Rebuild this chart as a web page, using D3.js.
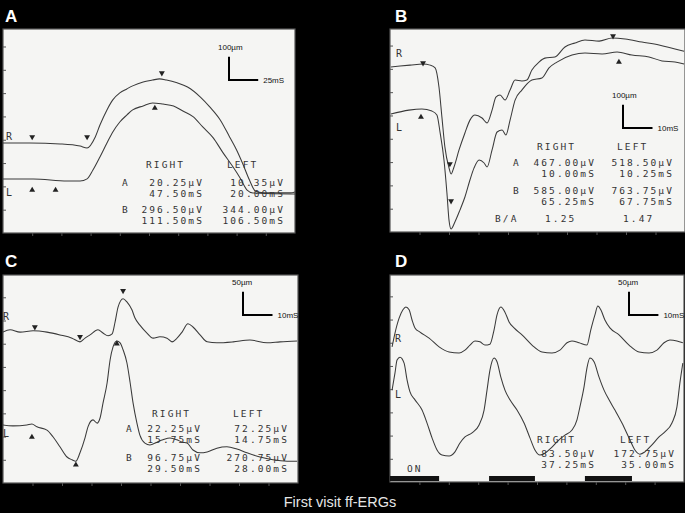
<!DOCTYPE html>
<html><head><meta charset="utf-8">
<script src="https://cdn.jsdelivr.net/npm/d3@7"></script>
<style>
html,body{margin:0;padding:0;background:#000;}
svg{display:block;}
</style></head>
<body>
<svg id="chart" width="685" height="513"></svg>
<script>
// ---------------- DATA (time in ms, amplitude in µV from the bottom of each grid) ----------------
const panelLetters = ["A", "B", "C", "D"];
const caption = "First visit ff-ERGs";

// Panel A (scotopic, 25 ms / div, 100 µV / div)
const traceA_R = [[0,386],[23,386],[49,382],[66,373],[72,365],[79,412],[83,463],[89,528],[94,571],[100,601],[106,618],[111,631],[120,648],[128,656],[134,661],[140,656],[149,644],[158,626],[169,583],[177,541],[186,485],[194,412],[200,356],[205,300],[211,227],[216,180],[223,172],[246,172],[250,176]];
const traceA_L = [[0,232],[26,232],[55,223],[66,223],[72,232],[77,270],[83,326],[89,386],[94,433],[100,476],[106,506],[111,528],[120,545],[128,558],[137,553],[146,545],[154,523],[163,498],[171,455],[180,408],[188,347],[197,283],[203,236],[209,184],[214,172],[246,167],[250,167]];
const downA = [[25,412],[72,412],[136,686]];
const upA = [[25,184],[45,184],[130,536]];
const headerA = ["RIGHT","LEFT"];
const rowsA = [["A","20.25µV","47.50mS","10.35µV","20.00mS"],["B","296.50µV","111.50mS","344.00µV","106.50mS"]];
const scaleA = ["100µm","25mS"];

// Panel B (10 ms / div, 100 µV / div)
const traceB_R = [[0.3,708],[3.4,712],[6.8,716],[11.2,721],[13.6,716],[15.3,704],[16.6,622],[17.6,493],[18.6,365],[20.0,275],[20.7,249],[21.7,279],[23.4,352],[25.4,425],[27.1,480],[28.8,502],[31.2,489],[32.9,468],[34.6,523],[35.9,579],[37.3,588],[39.0,566],[40.7,609],[42.4,652],[44.7,648],[46.4,652],[48.1,695],[50.5,729],[52.5,746],[55.9,751],[59.3,794],[62.7,811],[66.1,824],[70.9,819],[75.3,832],[79.7,828],[85.4,815],[91.2,802],[96.6,785],[99.7,776]];
const traceB_L = [[0.3,506],[6.4,523],[10.8,528],[14.2,519],[15.9,502],[17.0,425],[18.3,309],[19.3,167],[20.0,51],[20.7,13],[22.0,43],[23.7,94],[25.4,150],[27.1,223],[28.5,275],[30.2,309],[31.9,296],[32.9,279],[34.6,352],[36.3,429],[38.0,438],[39.3,416],[40.7,480],[42.4,566],[44.7,609],[48.1,652],[51.5,661],[53.9,704],[56.6,729],[61.7,759],[66.1,768],[71.9,764],[77.0,772],[82.0,759],[87.8,751],[92.2,734],[96.6,729],[99.7,721]];
const downB = [[11.2,725],[20.3,292],[75.6,841],[20.7,133]];
const upB = [[10.5,493],[77.6,729]];
const headerB = ["RIGHT","LEFT"];
const rowsB = [["A","467.00µV","10.00mS","518.50µV","10.25mS"],["B","585.00µV","65.25mS","763.75µV","67.75mS"]];
const ratioB = ["B/A","1.25","1.47"];
const scaleB = ["100µm","10mS"];

// Panel C (10 ms / div, 50 µV / div)
const traceC_R = [[0,325],[2.4,330],[5.8,325],[10.2,328],[14.9,325],[19.3,319],[23.4,312],[26.1,304],[27.8,312],[29.5,319],[32.2,330],[33.9,323],[35.6,317],[37.0,321],[38.0,347],[39.0,379],[40.7,397],[42.0,390],[43.7,373],[44.7,356],[46.4,340],[48.8,323],[50.9,312],[53.2,315],[55.6,312],[57.3,304],[59.0,312],[60.7,325],[62.7,343],[64.4,336],[66.8,319],[69.2,304],[72.5,302],[78.0,304],[83.7,308],[89.5,302],[93.9,304],[99.7,306]];
const traceC_L = [[0,125],[3.4,123],[8.1,125],[9.8,127],[11.5,121],[14.9,114],[17.0,99],[19.3,78],[21.7,56],[23.4,50],[24.7,47],[26.1,65],[27.8,97],[28.8,121],[30.5,136],[31.9,129],[32.9,140],[33.9,172],[35.3,216],[36.3,265],[37.3,293],[38.6,306],[39.7,302],[40.7,287],[42.0,259],[43.1,216],[44.1,172],[45.4,129],[46.4,103],[48.1,86],[49.8,82],[52.2,88],[54.2,93],[56.6,97],[59.0,93],[60.7,88],[62.4,86],[64.4,71],[66.8,65],[69.2,67],[72.5,75],[75.9,78],[79.3,73],[82.7,65],[87.1,56],[91.5,50],[96.3,47],[99.7,47]];
const downC = [[10.8,336],[26.1,315],[40.7,414]];
const upC = [[9.8,99],[24.7,39],[38.6,300]];
const headerC = ["RIGHT","LEFT"];
const rowsC = [["A","22.25µV","15.75mS","72.25µV","14.75mS"],["B","96.75µV","29.50mS","270.75µV","28.00mS"]];
const scaleC = ["50µm","10mS"];

// Panel D (30 Hz flicker, 10 ms / div, 50 µV / div)
const traceD_R = [[0.7,291],[1.7,321],[3.1,353],[4.4,371],[5.4,377],[6.5,371],[7.5,349],[8.5,332],[10.2,323],[13.3,310],[16.7,291],[20.1,280],[23.5,278],[25.5,284],[27.2,295],[28.9,304],[30.6,302],[32.3,295],[34.0,297],[35.4,328],[36.4,360],[37.7,377],[39.1,366],[40.5,345],[42.2,332],[44.9,317],[48.3,295],[51.7,280],[55.1,278],[57.8,284],[60.2,300],[61.9,304],[64.3,300],[67.0,295],[68.3,328],[69.7,360],[70.7,379],[71.7,371],[73.1,349],[74.8,332],[77.9,317],[81.3,295],[84.7,280],[88.1,278],[90.8,284],[93.2,300],[95.2,306],[97.6,304],[99.6,300]];
const traceD_L = [[0.7,198],[1.7,235],[2.4,263],[3.4,269],[4.8,256],[5.8,220],[6.8,194],[8.5,177],[10.9,155],[12.6,127],[14.3,95],[16.0,69],[17.7,58],[20.1,56],[22.1,65],[23.8,84],[25.5,97],[27.9,106],[30.3,123],[32.0,155],[33.0,198],[34.0,241],[35.4,267],[36.4,259],[37.7,226],[39.1,198],[40.8,177],[43.2,155],[45.6,127],[47.6,95],[49.3,69],[51.0,58],[52.7,62],[55.1,75],[57.5,91],[59.5,101],[61.9,112],[63.6,134],[64.6,162],[66.0,205],[67.0,246],[68.0,267],[69.4,259],[71.1,226],[72.8,198],[74.5,177],[76.5,155],[78.9,127],[81.3,95],[83.3,69],[85.0,60],[86.7,65],[89.1,80],[91.5,97],[93.5,108],[95.9,127],[97.6,162],[98.6,213],[99.6,256]];
const stimD = [[0,16.7],[33.7,49.3],[66.3,82.3]];
const stimLabelD = "ON";
const headerD = ["RIGHT","LEFT"];
const rowsD = [["","83.50µV","37.25mS","172.75µV","35.00mS"]];
const scaleD = ["50µm","10mS"];

// ---------------- LAYOUT ----------------
const svg = d3.select("#chart");
svg.append("rect").attr("width",685).attr("height",513).attr("fill","#000");

const MONO = "'DejaVu Sans Mono', 'Liberation Mono', monospace";
const SANS = "'Liberation Sans', Arial, sans-serif";

const panels = [
  {id:"A", box:[3,295,29,233], xMax:250, yMax:875, xDiv:25, yDiv:100, R:traceA_R, L:traceA_L, down:downA, up:upA,
   letter:[5,22], rl:[[6,140],[6,196]],
   header:headerA, rows:rowsA, hdrX:[146,227], hdrY:168, rowLabX:122, colEnd:[204,285], rowY:[[186,197],[213,224]],
   scale:scaleA, corner:[229,80]},
  {id:"B", box:[390,685,29,232], xMax:100, yMax:871, xDiv:10, yDiv:100, R:traceB_R, L:traceB_L, down:downB, up:upB,
   letter:[395,22], rl:[[396,57],[396,131]],
   header:headerB, rows:rowsB, hdrX:[537,617], hdrY:150, rowLabX:513, colEnd:[596,674], rowY:[[166,177],[194,205]],
   scale:scaleB, corner:[623,128], ratio:ratioB},
  {id:"C", box:[3,298,275,483], xMax:100, yMax:448, xDiv:10, yDiv:50, R:traceC_R, L:traceC_L, down:downC, up:upC,
   letter:[5,267], rl:[[3,320],[3,437]],
   header:headerC, rows:rowsC, hdrX:[152,233], hdrY:417, rowLabX:126, colEnd:[202,289], rowY:[[432,443],[461,472]],
   scale:scaleC, corner:[243,315]},
  {id:"D", box:[390,684,275,482], xMax:100, yMax:446, xDiv:10, yDiv:50, R:traceD_R, L:traceD_L, down:[], up:[],
   letter:[395,267], rl:[[395,342],[395,398]],
   header:headerD, rows:rowsD, hdrX:[537,620], hdrY:443, rowLabX:513, colEnd:[596,676], rowY:[[457,468]],
   scale:scaleD, corner:[629,315], stim:stimD}
];

panels.forEach((p, i) => {
  const [x0,x1,y0,y1] = p.box;
  const x = d3.scaleLinear().domain([0,p.xMax]).range([x0,x1]);
  const y = d3.scaleLinear().domain([0,p.yMax]).range([y1,y0]);
  const g = svg.append("g");

  g.append("rect").attr("x",x0).attr("y",y0).attr("width",x1-x0).attr("height",y1-y0)
    .attr("fill","#f5f5f3").attr("stroke","#555").attr("stroke-width",1.2);

  // grid ticks via d3 axes
  const xt = d3.range(1,10).map(k=>k*p.xDiv);
  const yt = d3.range(1,Math.floor(p.yMax/p.yDiv)+1).map(k=>k*p.yDiv).filter(v=>v<p.yMax-5);
  const ax = g.append("g").attr("transform",`translate(0,${y1})`)
    .call(d3.axisBottom(x).tickValues(xt).tickSize(3).tickFormat(""));
  const ay = g.append("g").attr("transform",`translate(${x0},0)`)
    .call(d3.axisLeft(y).tickValues(yt).tickSize(-3).tickFormat(""));
  [ax,ay].forEach(a=>{a.select(".domain").remove(); a.selectAll("line").attr("stroke","#555").attr("stroke-width",1);});

  // clip
  const cid = "clip"+p.id;
  svg.append("clipPath").attr("id",cid).append("rect").attr("x",x0).attr("y",y0).attr("width",x1-x0).attr("height",y1-y0);

  const line = d3.line().x(d=>x(d[0])).y(d=>y(d[1])).curve(d3.curveMonotoneX);
  const tg = g.append("g").attr("clip-path",`url(#${cid})`);
  [p.R,p.L].forEach(tr=>{
    tg.append("path").datum(tr).attr("d",line).attr("fill","none")
      .attr("stroke","#3a3a3a").attr("stroke-width",1.05).attr("stroke-linejoin","round");
  });

  // markers
  const tri = d3.symbol().type(d3.symbolTriangle).size(15);
  tg.selectAll(".dn").data(p.down).join("path").attr("d",tri)
    .attr("transform",d=>`translate(${x(d[0])},${y(d[1])}) rotate(180)`).attr("fill","#222");
  tg.selectAll(".up").data(p.up).join("path").attr("d",tri)
    .attr("transform",d=>`translate(${x(d[0])},${y(d[1])})`).attr("fill","#222");

  const mono = (sel)=>sel.attr("font-family",MONO).attr("font-size",9.5).attr("letter-spacing",2.1).attr("fill","#333");

  // stimulus bars
  if (p.stim) {
    tg.selectAll(".stim").data(p.stim).join("rect")
      .attr("x",d=>x(d[0])).attr("width",d=>x(d[1])-x(d[0]))
      .attr("y",y1-6).attr("height",5).attr("fill","#111");
    mono(g.append("text").attr("x",407).attr("y",472).text(stimLabelD));
  }

  // panel letter
  svg.append("text").attr("x",p.letter[0]).attr("y",p.letter[1]).text(panelLetters[i])
    .attr("font-family",SANS).attr("font-weight","bold").attr("font-size",17).attr("fill","#fff");

  // R / L labels
  ["R","L"].forEach((s,k)=>{
    mono(g.append("text").attr("x",p.rl[k][0]).attr("y",p.rl[k][1]).text(s)).attr("font-size",10);
  });

  // table
  p.header.forEach((h,k)=>mono(g.append("text").attr("x",p.hdrX[k]).attr("y",p.hdrY).text(h)));
  p.rows.forEach((r,k)=>{
    if (r[0]) mono(g.append("text").attr("x",p.rowLabX).attr("y",p.rowY[k][0]).text(r[0]));
    mono(g.append("text").attr("x",p.colEnd[0]).attr("y",p.rowY[k][0]).attr("text-anchor","end").text(r[1]));
    mono(g.append("text").attr("x",p.colEnd[0]).attr("y",p.rowY[k][1]).attr("text-anchor","end").text(r[2]));
    mono(g.append("text").attr("x",p.colEnd[1]).attr("y",p.rowY[k][0]).attr("text-anchor","end").text(r[3]));
    mono(g.append("text").attr("x",p.colEnd[1]).attr("y",p.rowY[k][1]).attr("text-anchor","end").text(r[4]));
  });
  if (p.ratio) {
    mono(g.append("text").attr("x",495).attr("y",222).text(p.ratio[0]));
    mono(g.append("text").attr("x",545).attr("y",222).text(p.ratio[1]));
    mono(g.append("text").attr("x",623).attr("y",222).text(p.ratio[2]));
  }

  // scale bar (one division each way)
  const [cx,cy] = p.corner;
  const vLen = y(0)-y(p.yDiv), hLen = x(p.xDiv)-x(0);
  g.append("path").attr("d",`M${cx},${cy-vLen}V${cy}H${cx+hLen}`)
    .attr("fill","none").attr("stroke","#000").attr("stroke-width",2);
  g.append("text").attr("x",cx-11).attr("y",cy-vLen-7).text(p.scale[0])
    .attr("font-family",SANS).attr("font-size",8).attr("fill","#111");
  g.append("text").attr("x",cx+hLen+5).attr("y",cy+3).text(p.scale[1])
    .attr("font-family",SANS).attr("font-size",8).attr("fill","#111");
});

svg.append("text").attr("x",340).attr("y",507).attr("text-anchor","middle").text(caption)
  .attr("font-family",SANS).attr("font-size",14.5).attr("fill","#e6e6e6");
</script>
</body></html>
